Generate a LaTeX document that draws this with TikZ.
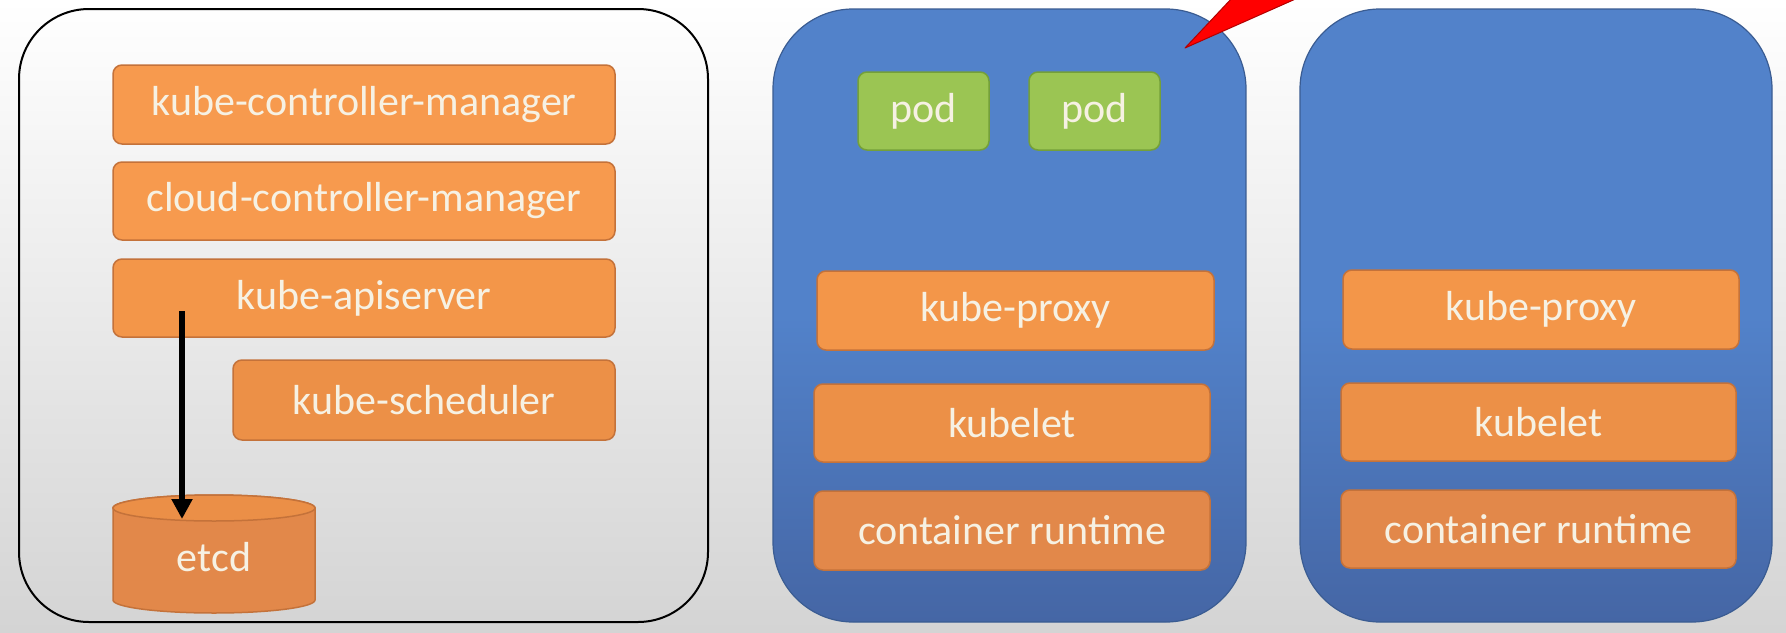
\documentclass[tikz,border=0pt]{standalone}
\usepackage{fontspec}
\setmainfont{Carlito}
\usetikzlibrary{arrows.meta}
\definecolor{orA}{HTML}{F79A4E}
\definecolor{orB}{HTML}{F39649}
\definecolor{orC}{HTML}{EC9047}
\definecolor{orD}{HTML}{E2884A}
\definecolor{orEdge}{HTML}{C4723A}
\definecolor{txt}{HTML}{F6F1E3}
\definecolor{blueTop}{HTML}{5282CA}
\definecolor{blueBot}{HTML}{4566A5}
\definecolor{blueEdge}{HTML}{3A5C92}
\definecolor{podFill}{HTML}{9BC553}
\definecolor{podEdge}{HTML}{74A03A}
\definecolor{bgBot}{HTML}{D4D4D4}
\tikzset{
  comp/.style={draw=orEdge, line width=1.5pt, rounded corners=9pt, text=txt,
    font=\fontsize{42}{50}\selectfont, inner sep=0pt},
  podbox/.style={draw=podEdge, fill=podFill, line width=1.5pt, rounded corners=9pt,
    text=txt, font=\fontsize{42}{50}\selectfont, inner sep=0pt,
    minimum width=131pt, minimum height=78pt},
  nodebox/.style={draw=blueEdge, line width=1.2pt, rounded corners=80pt,
    top color=blueTop, bottom color=blueBot, middle color=blueTop},
}
\begin{document}
\begin{tikzpicture}[x=1pt,y=-1pt]
\useasboundingbox (0,0) rectangle (1786,632);
\shade[top color=white, middle color=white, bottom color=bgBot] (0,0) rectangle (1786,632);

% control plane box
\draw[line width=2pt, rounded corners=70pt] (19,9) rectangle (708,622);
\node[comp, fill=orA, minimum width=502pt, minimum height=79pt] (kcm) at (364,104.5) {kube-controller-manager};
\node[comp, fill=orA, minimum width=502pt, minimum height=78pt] (ccm) at (364,201) {cloud-controller-manager};
\node[comp, fill=orB, minimum width=502pt, minimum height=78pt] (api) at (364,298) {kube-apiserver};
\node[comp, fill=orC, minimum width=382pt, minimum height=80pt] (sched) at (424,400) {kube-scheduler};

% etcd cylinder
\filldraw[fill=orD, draw=orEdge, line width=1.5pt]
  (113,508) -- (113,600) arc[start angle=180, end angle=360, x radius=101pt, y radius=13pt]
  -- (315,508) arc[start angle=0, end angle=180, x radius=101pt, y radius=13pt] -- cycle;
\filldraw[fill=orC!90!orD, draw=orEdge, line width=1.5pt] (214,508) ellipse[x radius=101pt, y radius=13pt];
\node[text=txt, font=\fontsize{42}{50}\selectfont, inner sep=0pt] (etcd) at (214,557) {etcd};
\coordinate (arrS) at (182,311);
\coordinate (etcdTop) at (182,519);
\draw[line width=5.5pt, -{Triangle[length=20pt,width=20pt]}] (arrS) -- (etcdTop);

% worker node 1
\path[nodebox] (773,9) rectangle (1246,622);
\node[podbox] (pod1) at (923.5,111) {pod};
\node[podbox] (pod2) at (1094.5,111) {pod};
\node[comp, fill=orB, minimum width=397pt, minimum height=79pt] (kp1) at (1015.5,310.5) {kube-proxy};
\node[comp, fill=orC, minimum width=396pt, minimum height=78pt] (kl1) at (1012,423) {kubelet};
\node[comp, fill=orD, minimum width=396pt, minimum height=79pt] (cr1) at (1012,530.5) {container runtime};

% worker node 2
\path[nodebox] (1300,9) rectangle (1772,622);
\node[comp, fill=orB, minimum width=396pt, minimum height=79pt] (kp2) at (1541,309.5) {kube-proxy};
\node[comp, fill=orC, minimum width=395pt, minimum height=78pt] (kl2) at (1538.5,422) {kubelet};
\node[comp, fill=orD, minimum width=395pt, minimum height=78pt] (cr2) at (1538.5,529) {container runtime};

% red pointer wedge
\filldraw[fill=red, draw=red!70!black, line width=1pt, line join=round]
  (1185,48) -- (1233,-3) -- (1300,-3) -- cycle;
\end{tikzpicture}
\end{document}
